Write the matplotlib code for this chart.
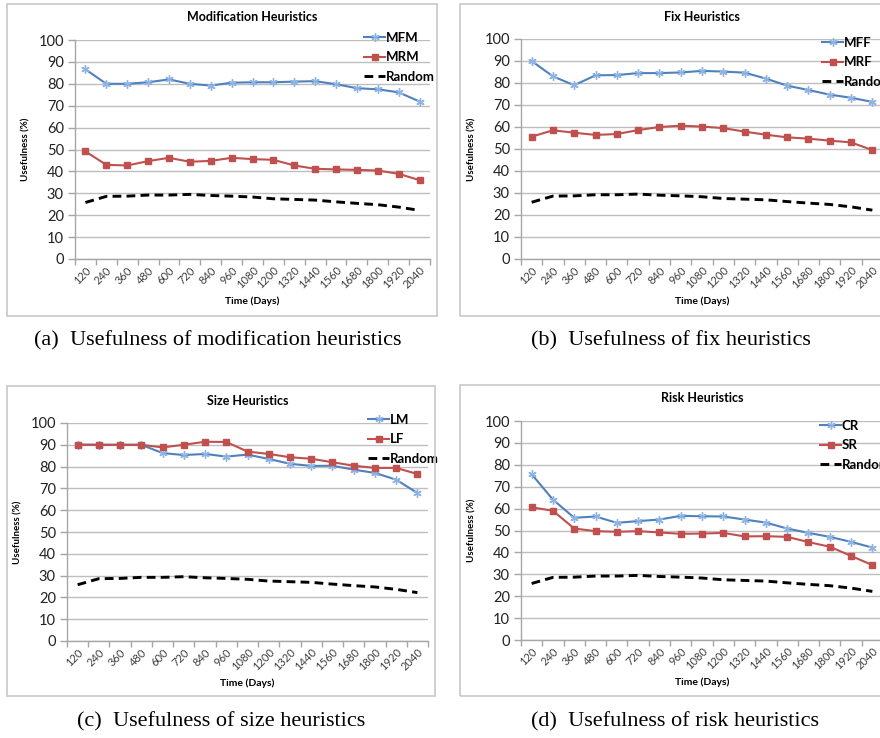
import matplotlib.pyplot as plt
from matplotlib.patches import Rectangle
import numpy as np

# jours (axe des x, catégories)
days = ["120", "240", "360", "480", "600", "720", "840", "960", "1080", "1200",
        "1320", "1440", "1560", "1680", "1800", "1920", "2040"]

random_use = [25.8, 28.6, 28.7, 29.2, 29.2, 29.5, 29.0, 28.7, 28.3, 27.5,
              27.2, 26.9, 26.1, 25.4, 24.8, 23.7, 22.2]

mfm = [86.6, 80.0, 80.0, 80.7, 82.0, 80.0, 79.2, 80.5, 80.7, 80.7,
       81.0, 81.2, 79.8, 78.0, 77.5, 76.1, 71.9]
mrm = [49.1, 43.0, 42.7, 44.7, 46.2, 44.4, 44.8, 46.2, 45.6, 45.3,
       42.7, 41.2, 40.9, 40.7, 40.4, 38.9, 36.0]

mff = [90.0, 83.0, 79.0, 83.5, 83.6, 84.5, 84.5, 84.8, 85.5, 85.2,
       84.7, 82.0, 78.8, 76.8, 74.7, 73.3, 71.4]
mrf = [55.6, 58.5, 57.4, 56.4, 56.8, 58.6, 60.0, 60.6, 60.2, 59.5,
       57.9, 56.5, 55.3, 54.7, 53.8, 53.0, 49.5]

lm = [90.1, 90.0, 90.0, 90.0, 86.2, 85.3, 85.8, 84.6, 85.5, 83.5,
      81.3, 80.3, 80.4, 78.6, 77.1, 74.0, 67.9]
lf = [90.0, 90.0, 90.0, 90.0, 88.8, 90.0, 91.4, 91.3, 86.9, 85.8,
      84.3, 83.6, 82.0, 80.4, 79.4, 79.4, 76.6]

cr = [75.7, 64.1, 55.8, 56.4, 53.5, 54.3, 55.0, 56.7, 56.5, 56.4,
      55.0, 53.6, 50.9, 48.9, 47.1, 44.8, 42.2]
sr = [60.6, 59.0, 50.9, 49.7, 49.4, 49.7, 49.1, 48.5, 48.6, 48.9,
      47.3, 47.4, 47.1, 44.7, 42.6, 38.4, 34.2]

W, H = 880, 738
BLUE = "#4F81BD"
RED = "#C0504D"
GRAY = "#A6A6A6"
FONT = "Lato"

fig = plt.figure(figsize=(W / 100, H / 100), dpi=100)


def fx(x):
    return x / W


def fy(y):
    return 1 - y / H


# Dessine un panneau style Excel : cadre, axes, courbes, légende, légende du bas
def panel(box, area, title, title_y, names, blue, red, leg_xy, caption, cap_xy):
    bx0, by0, bx1, by1 = box
    fig.patches.append(Rectangle((fx(bx0), fy(by1)), fx(bx1 - bx0), (by1 - by0) / H,
                                 transform=fig.transFigure, fill=False,
                                 edgecolor="#C8C8C8", lw=1.2))
    x0, y0, x1, y1 = area
    ax = fig.add_axes([fx(x0), fy(y1), fx(x1 - x0), (y1 - y0) / H])
    x = np.arange(len(days))

    ax.plot(x, blue, color=BLUE, lw=1.5, marker=(6, 2, 0), ms=6,
            mec="#8EB4E3", mew=1.0, label=names[0], zorder=4)
    ax.plot(x, red, color=RED, lw=1.5, marker="s", ms=5, mfc=RED, mec=RED,
            label=names[1], zorder=5)
    ax.plot(x, random_use, color="black", lw=2.1, dashes=(3.0, 1.8),
            label="Random", zorder=3)

    ax.set_xlim(-0.5, len(days) - 0.5)
    ax.set_ylim(0, 100)
    ax.set_yticks(range(0, 101, 10))
    ax.set_xticks(np.arange(-0.5, len(days), 1.0))
    ax.set_xticklabels([])
    ax.set_xticks(x, minor=True)
    ax.set_xticklabels(days, minor=True, rotation=45, ha="right",
                       rotation_mode="anchor", fontsize=8, color="#404040",
                       family=FONT)
    ax.tick_params(axis="x", which="minor", length=0, pad=4)
    ax.tick_params(axis="x", which="major", length=4, color=GRAY, width=1)
    ax.tick_params(axis="y", length=5, color=GRAY, width=1, labelsize=10.5,
                   labelcolor="#222222", pad=3)
    for lab in ax.get_yticklabels():
        lab.set_family(FONT)

    ax.grid(axis="y", color="#BEBEBE", lw=1)
    ax.set_axisbelow(True)
    for s in ["top", "right"]:
        ax.spines[s].set_visible(False)
    for s in ["left", "bottom"]:
        ax.spines[s].set_color(GRAY)
        ax.spines[s].set_linewidth(1)

    ax.set_ylabel("Usefulness (%)", fontsize=7, fontweight="bold", family=FONT,
                  labelpad=6)
    ax.set_xlabel("Time (Days)", fontsize=7.5, fontweight="bold", family=FONT,
                  labelpad=4)
    fig.text(fx((x0 + x1) / 2), fy(title_y), title, fontsize=9,
             fontweight="bold", family=FONT, ha="center", va="center")

    ax.legend(loc="upper left", bbox_to_anchor=(fx(leg_xy[0]), fy(leg_xy[1])),
              bbox_transform=fig.transFigure, frameon=False, borderpad=0,
              borderaxespad=0, handlelength=1.6, handletextpad=0.05,
              labelspacing=0.55, prop={"family": FONT, "weight": "bold", "size": 9.5})

    fig.text(fx(cap_xy[0]), fy(cap_xy[1]), caption, ha="center", va="center",
             fontsize=16, family="Liberation Serif")
    return ax


panel((7, 4, 437, 316), (75, 40, 430, 259), "Modification Heuristics", 17,
      ["MFM", "MRM"], mfm, mrm, (364, 32),
      "(a)  Usefulness of modification heuristics", (218, 341))
panel((460, 4, 900, 316), (521, 39, 883, 259), "Fix Heuristics", 17,
      ["MFF", "MRF"], mff, mrf, (822, 37),
      "(b)  Usefulness of fix heuristics", (671, 341))
panel((7, 386, 435, 696), (67, 423, 428, 641), "Size Heuristics", 401,
      ["LM", "LF"], lm, lf, (368, 414),
      "(c)  Usefulness of size heuristics", (221, 722))
panel((460, 385, 900, 696), (521, 421, 883, 640), "Risk Heuristics", 398,
      ["CR", "SR"], cr, sr, (820, 420),
      "(d)  Usefulness of risk heuristics", (675, 722))

fig.savefig("out.png", dpi=100)
